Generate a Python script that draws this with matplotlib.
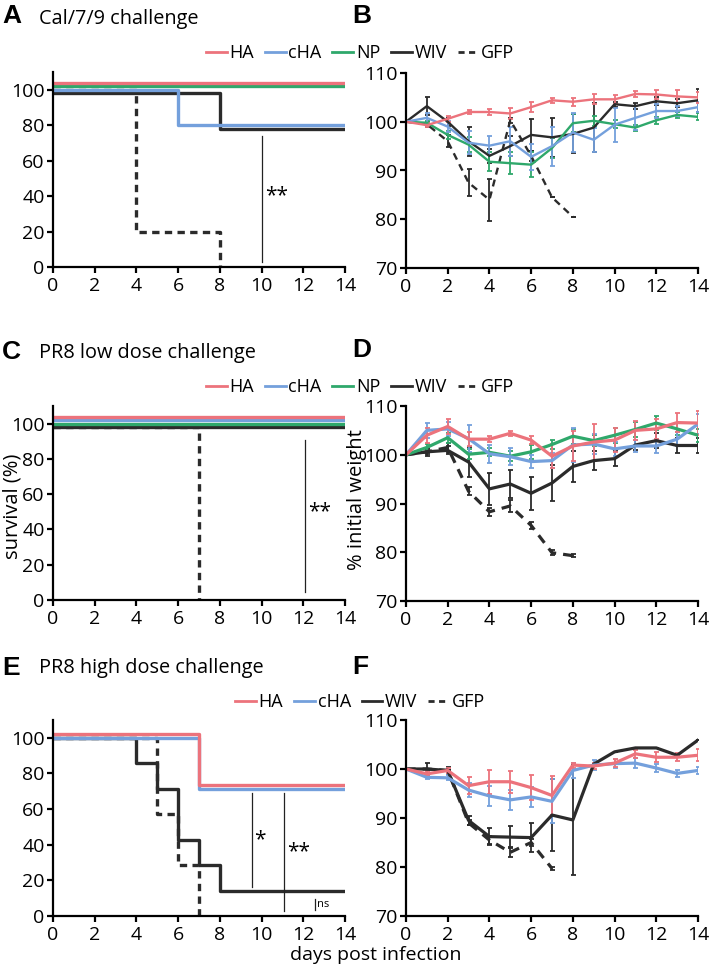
import numpy as np
import matplotlib
matplotlib.use("Agg")
import matplotlib.pyplot as plt
from matplotlib.lines import Line2D

plt.rcParams['font.family'] = ['Open Sans', 'DejaVu Sans']
plt.rcParams['font.size'] = 14

# ---------------- data ----------------
groups = ['HA', 'cHA', 'NP', 'WIV', 'GFP']

# survival (%) as step points: (days, percent)
surv_A = {
    'HA': ([0, 14], [100, 100]),
    'NP': ([0, 14], [100, 100]),
    'cHA': ([0, 6, 14], [100, 80, 80]),
    'WIV': ([0, 8, 14], [100, 80, 80]),
    'GFP': ([0, 4, 8], [100, 20, 0]),
}
surv_C = {
    'HA': ([0, 14], [100, 100]),
    'cHA': ([0, 14], [100, 100]),
    'NP': ([0, 14], [100, 100]),
    'WIV': ([0, 14], [100, 100]),
    'GFP': ([0, 7], [100, 0]),
}
surv_E = {
    'HA': ([0, 7, 14], [100, 71.4, 71.4]),
    'cHA': ([0, 7, 14], [100, 71.4, 71.4]),
    'WIV': ([0, 4, 5, 6, 7, 8, 14], [100, 85.7, 71.4, 42.9, 28.6, 14.3, 14.3]),
    'GFP': ([0, 5, 6, 7], [100, 57.1, 28.6, 0]),
}

# weight (% initial) mean and SEM per day
w_B = {
    'HA': [100, 99.3, 100.6, 102.0, 102.0, 101.7, 103.0, 104.4, 104.1, 104.6, 104.6, 105.7, 105.6, 105.2, 105.0],
    'cHA': [100, 100.8, 99.0, 95.7, 95.1, 96.0, 92.8, 95.0, 97.8, 96.3, 99.4, 100.8, 102.2, 102.2, 103.0],
    'NP': [100, 99.8, 97.3, 95.3, 91.8, 91.5, 91.2, 94.6, 99.7, 100.2, 99.5, 98.8, 100.3, 101.4, 101.0],
    'WIV': [100, 103.2, 100.0, 96.0, 93.0, 95.0, 97.3, 96.8, 97.5, 98.8, 103.6, 103.2, 104.2, 103.8, 104.4],
    'GFP': [100, 99.5, 96.0, 87.5, 84.0, 100.3, 93.0, 84.5, 80.5],
}
e_B = {
    'HA': [0, 0.4, 0.6, 0.5, 0.6, 1.2, 1.0, 0.5, 0.8, 1.0, 0.9, 0.6, 1.0, 1.4, 1.2],
    'cHA': [0, 1.0, 1.2, 2.3, 2.0, 3.0, 2.6, 4.0, 4.0, 2.5, 3.5, 2.5, 1.5, 1.0, 1.0],
    'NP': [0, 0.3, 0.8, 1.5, 2.0, 2.2, 2.5, 2.0, 1.8, 1.0, 0.8, 0.6, 0.7, 0.6, 0.7],
    'WIV': [0, 1.8, 0.8, 3.0, 1.5, 2.0, 3.3, 4.0, 4.0, 5.0, 0.5, 0.6, 0.8, 0.8, 2.3],
    'GFP': [0, 0.5, 1.2, 2.8, 4.3, 0.5, 1.0, 0, 0],
}
w_D = {
    'HA': [100, 104.0, 105.8, 103.2, 103.2, 104.4, 103.0, 99.7, 101.8, 102.6, 103.0, 105.0, 105.3, 106.6, 106.5],
    'cHA': [100, 105.0, 105.3, 103.3, 100.2, 99.6, 98.6, 98.8, 102.0, 102.2, 101.2, 101.8, 101.8, 103.2, 106.3],
    'NP': [100, 101.5, 103.5, 100.1, 100.5, 99.7, 100.6, 102.1, 103.8, 102.9, 104.0, 105.2, 106.5, 105.3, 104.0],
    'WIV': [100, 100.6, 100.9, 98.5, 93.0, 94.0, 92.1, 94.2, 97.6, 98.8, 99.2, 102.0, 102.9, 101.9, 101.9],
    'GFP': [100, 100.6, 101.5, 92.5, 88.3, 89.5, 85.5, 79.9, 79.3],
}
e_D = {
    'HA': [0, 1.5, 1.5, 1.5, 0.6, 0.5, 0.8, 2.5, 3.0, 3.8, 2.5, 2.0, 2.0, 2.0, 2.5],
    'cHA': [0, 1.5, 1.5, 2.8, 1.8, 1.8, 1.4, 1.6, 3.5, 2.0, 1.5, 1.3, 1.5, 1.5, 2.0],
    'NP': [0, 0.8, 1.0, 1.0, 0.8, 1.0, 1.5, 1.0, 1.5, 1.2, 1.5, 1.5, 1.5, 1.2, 1.3],
    'WIV': [0, 0.8, 0.8, 3.0, 3.3, 2.8, 3.4, 3.6, 3.2, 2.0, 1.6, 1.0, 1.5, 1.6, 1.5],
    'GFP': [0, 0.5, 1.0, 0.8, 0.8, 1.2, 0.8, 0.5, 0.3],
}
w_F = {
    'HA': [100, 99.0, 99.7, 96.6, 97.4, 97.4, 96.2, 94.6, 100.8, 100.6, 101.2, 103.1, 102.4, 102.4, 102.8],
    'cHA': [100, 98.3, 98.2, 95.7, 94.5, 93.7, 94.3, 93.4, 99.7, 100.8, 101.1, 101.2, 100.2, 99.1, 99.7],
    'WIV': [100, 100.0, 99.7, 89.5, 86.2, 86.1, 86.0, 90.6, 89.6, 101.0, 103.5, 104.3, 104.3, 102.8, 105.9],
    'GFP': [100, 100.0, 99.7, 89.0, 85.5, 83.0, 85.0, 79.7],
}
e_F = {
    'HA': [0, 0.5, 0.5, 1.8, 2.4, 2.2, 2.6, 4.0, 0.5, 0.6, 0.8, 0.8, 1.0, 0.8, 1.2],
    'cHA': [0, 0.4, 0.5, 1.5, 2.0, 2.0, 2.0, 4.5, 1.5, 1.0, 0.9, 1.0, 0.8, 0.7, 0.8],
    'WIV': [0, 1.2, 0.7, 1.0, 1.8, 2.2, 3.0, 7.4, 11.3, 0, 0, 0, 0, 0, 0],
    'GFP': [0, 0, 0, 0.5, 0.8, 1.0, 0.8, 0.3],
}

# ---------------- styles ----------------
colors = {'HA': '#ec737c', 'cHA': '#74a0dc', 'NP': '#2fa86b', 'WIV': '#2b2b2b', 'GFP': '#2b2b2b'}
dashed = {'GFP'}
# small vertical offsets so overlapping survival curves stay visible
offs_A = {'HA': 4, 'NP': 2, 'cHA': 0, 'WIV': -2, 'GFP': 0}
offs_C = {'HA': 4, 'cHA': 2, 'NP': 0, 'WIV': -2, 'GFP': -2}
offs_E = {'HA': 2, 'cHA': 0, 'WIV': 0, 'GFP': 0}

fig = plt.figure(figsize=(7.09, 9.71), dpi=100)
W, H = 709, 971


def make_ax(x0, x1, ytop, ybot):
    ax = fig.add_axes([x0 / W, 1 - ybot / H, (x1 - x0) / W, (ybot - ytop) / H])
    for s in ['top', 'right']:
        ax.spines[s].set_visible(False)
    for s in ['left', 'bottom']:
        ax.spines[s].set_linewidth(1.6)
    ax.tick_params(direction='out', length=4, width=1.6, labelsize=14, pad=2)
    ax.tick_params(axis='x', pad=3)
    ax.set_xlim(0, 14)
    ax.set_xticks(np.arange(0, 15, 2))
    return ax


def survival(ax, data, offs):
    order = ['GFP', 'WIV', 'NP', 'cHA', 'HA']
    for g in order:
        if g not in data:
            continue
        d, s = data[g]
        s = np.array(s, float) + offs[g]
        ax.plot(d, s, drawstyle='steps-post', color=colors[g], lw=2.4,
                ls=(0, (2.2, 1.6)) if g in dashed else '-', solid_capstyle='butt')
    ax.set_ylim(0, 110)
    ax.set_yticks(np.arange(0, 101, 20))


def weight(ax, data, err, lw):
    order = ['GFP', 'WIV', 'NP', 'cHA', 'HA']
    for g in order:
        if g not in data:
            continue
        y = np.array(data[g])
        x = np.arange(len(y))
        e = np.array(err[g])
        ax.errorbar(x, y, yerr=e, color=colors[g], lw=lw,
                    ls=(0, (3, 2.2)) if g in dashed else '-',
                    elinewidth=1.3, capsize=1.8, capthick=1.3)
    ax.set_ylim(70, 110)
    ax.set_yticks(np.arange(70, 111, 10))


L0, L1 = 53, 345
R0, R1 = 406, 698

axA = make_ax(L0, L1, 72, 267)
survival(axA, surv_A, offs_A)
axA.plot([10, 10], [2.6, 74], color='#222222', lw=0.9)
axA.text(10.15, 40, '**', fontsize=15, va='center')

axB = make_ax(R0, R1, 73, 268)
weight(axB, w_B, e_B, 1.7)

axC = make_ax(L0, L1, 406, 600)
survival(axC, surv_C, offs_C)
axC.plot([12.1, 12.1], [4.5, 91], color='#222222', lw=0.9)
axC.text(12.25, 50, '**', fontsize=15, va='center')

axD = make_ax(R0, R1, 406, 601)
weight(axD, w_D, e_D, 2.3)

axE = make_ax(L0, L1, 720, 916)
survival(axE, surv_E, offs_E)
axE.plot([9.52, 9.52], [16.4, 69], color='#222222', lw=0.9)
axE.text(9.66, 43, '*', fontsize=15, va='center')
axE.plot([11.06, 11.06], [2.8, 69], color='#222222', lw=0.9)
axE.text(11.2, 36, '**', fontsize=15, va='center')
axE.plot([12.56, 12.56], [3.2, 9.8], color='#222222', lw=0.9)
axE.text(12.64, 6.5, 'ns', fontsize=8, va='center')

axF = make_ax(R0, R1, 720, 916)
weight(axF, w_F, e_F, 2.3)

# axis labels
fig.text(13 / W, 1 - 506 / H, 'survival (%)', rotation=90, fontsize=14.5, ha='center', va='center')
fig.text(357 / W, 1 - 500 / H, '% initial weight', rotation=90, fontsize=14.5, ha='center', va='center')
fig.text(376 / W, 1 - 955 / H, 'days post infection', fontsize=14, ha='center', va='center')

# panel letters and titles
letters = [('A', 2, 16), ('B', 352, 16), ('C', 2, 352), ('D', 352, 350), ('E', 2, 668), ('F', 352, 667)]
for t, x, y in letters:
    fig.text(x / W, 1 - y / H, t, fontsize=19, fontweight='bold',
             family='Liberation Sans', va='center', ha='left')
titles = [('Cal/7/9 challenge', 19), ('PR8 low dose challenge', 353), ('PR8 high dose challenge', 668)]
for t, y in titles:
    fig.text(39 / W, 1 - y / H, t, fontsize=14.3, va='center', ha='left')


def legend(names, y):
    handles = [Line2D([], [], color=colors[g], lw=2.0,
                      ls=(0, (2.2, 1.6)) if g in dashed else '-') for g in names]
    fig.legend(handles, names, loc='center', bbox_to_anchor=(360 / W, 1 - y / H),
               ncol=len(names), frameon=False, fontsize=13, handlelength=1.15,
               handletextpad=0.15, columnspacing=0.6, borderpad=0)


legend(['HA', 'cHA', 'NP', 'WIV', 'GFP'], 53)
legend(['HA', 'cHA', 'NP', 'WIV', 'GFP'], 387)
legend(['HA', 'cHA', 'WIV', 'GFP'], 702)

fig.savefig('out.png', dpi=100)
